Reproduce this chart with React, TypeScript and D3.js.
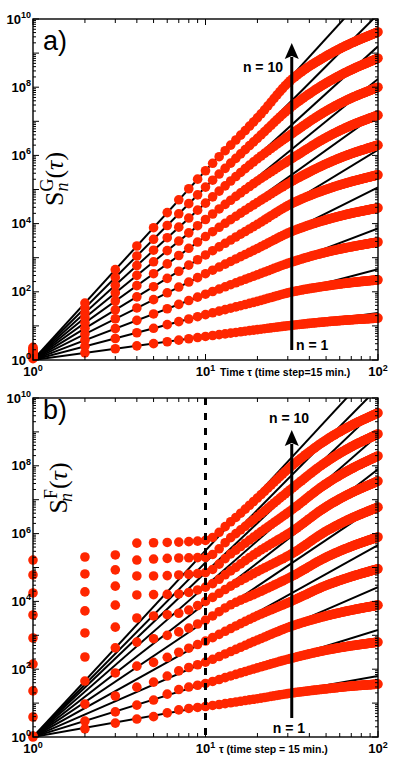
import React from "react";
import * as d3 from "d3";

const W = 395;
const H = 760;

// ---------- data (log10 of S_n(τ)) ----------
// rows: n = 1 .. 10

// panel a) S^G_n(τ)
const tauAnchorsG = [1, 2, 3, 5, 10, 20, 32, 50, 70, 100];
const logSG = [
  [0.04, 0.21, 0.33, 0.48, 0.69, 0.89, 1.02, 1.12, 1.18, 1.23],
  [0.07, 0.40, 0.63, 0.93, 1.33, 1.72, 2.0, 2.17, 2.27, 2.35],
  [0.11, 0.58, 0.92, 1.35, 1.93, 2.5, 2.88, 3.16, 3.32, 3.46],
  [0.15, 0.76, 1.21, 1.77, 2.53, 3.27, 3.78, 4.11, 4.3, 4.46],
  [0.18, 0.93, 1.47, 2.15, 3.08, 3.98, 4.6, 5.0, 5.23, 5.43],
  [0.22, 1.09, 1.73, 2.53, 3.62, 4.62, 5.25, 5.75, 6.05, 6.3],
  [0.26, 1.24, 1.97, 2.88, 4.12, 5.25, 5.92, 6.52, 6.88, 7.18],
  [0.30, 1.38, 2.19, 3.22, 4.6, 5.9, 6.65, 7.3, 7.68, 8.0],
  [0.33, 1.53, 2.42, 3.54, 5.07, 6.5, 7.45, 8.12, 8.51, 8.85],
  [0.37, 1.67, 2.65, 3.88, 5.55, 7.1, 8.25, 8.91, 9.29, 9.62],
];
const zetaG = [0.69, 1.33, 1.93, 2.53, 3.08, 3.62, 4.12, 4.6, 5.07, 5.55];

// panel b) S^F_n(τ)
const tauAnchorsF = [1, 2, 3, 4, 5, 7, 10, 14, 20, 32, 50, 70, 100];
const logSF = [
  [0.0, 0.24, 0.41, 0.53, 0.6, 0.8, 0.9, 1.01, 1.13, 1.3, 1.42, 1.5, 1.56],
  [0.03, 0.47, 0.74, 0.94, 1.09, 1.4, 1.58, 1.8, 2.04, 2.33, 2.56, 2.69, 2.8],
  [0.59, 0.97, 1.21, 1.47, 1.62, 1.95, 2.21, 2.52, 2.86, 3.28, 3.57, 3.74, 3.89],
  [1.36, 1.65, 1.89, 2.09, 2.2, 2.5, 2.83, 3.2, 3.58, 4.02, 4.47, 4.73, 4.96],
  [2.15, 2.36, 2.63, 2.8, 2.9, 3.1, 3.45, 3.9, 4.25, 4.75, 5.3, 5.62, 5.9],
  [2.92, 3.07, 3.24, 3.51, 3.57, 3.65, 4.0, 4.45, 4.88, 5.42, 6.07, 6.45, 6.78],
  [3.6, 3.72, 3.89, 4.19, 4.2, 4.22, 4.42, 4.9, 5.45, 6.08, 6.79, 7.2, 7.55],
  [4.25, 4.28, 4.45, 4.75, 4.75, 4.78, 4.85, 5.4, 5.98, 6.72, 7.47, 7.91, 8.29],
  [4.78, 4.81, 4.93, 5.22, 5.25, 5.28, 5.3, 5.88, 6.5, 7.35, 8.11, 8.56, 8.94],
  [5.22, 5.31, 5.37, 5.72, 5.73, 5.75, 5.8, 6.35, 7.05, 8.02, 8.76, 9.19, 9.56],
];
const zetaF = [0.9, 1.58, 2.21, 2.83, 3.42, 3.95, 4.45, 4.85, 5.15, 5.5];

const yTickExps = [0, 2, 4, 6, 8, 10];
const xTickExps = [0, 1, 2];
const sampleTaus = d3.range(1, 101);

const RED = "#ff2600";
const SANS = "'Liberation Sans', Arial, sans-serif";
const SERIF = "'Liberation Serif', 'DejaVu Serif', serif";

// monotone cubic (Fritsch–Carlson) through the read anchor values
function monotone(xs: number[], ys: number[]) {
  const n = xs.length;
  const d: number[] = [];
  for (let i = 0; i < n - 1; i++) d.push((ys[i + 1] - ys[i]) / (xs[i + 1] - xs[i]));
  const m: number[] = new Array(n);
  m[0] = d[0];
  m[n - 1] = d[n - 2];
  for (let i = 1; i < n - 1; i++) {
    if (d[i - 1] * d[i] <= 0) m[i] = 0;
    else {
      const w1 = 2 * (xs[i + 1] - xs[i]) + (xs[i] - xs[i - 1]);
      const w2 = (xs[i + 1] - xs[i]) + 2 * (xs[i] - xs[i - 1]);
      m[i] = (w1 + w2) / (w1 / d[i - 1] + w2 / d[i]);
    }
  }
  return (x: number) => {
    let i = 0;
    while (i < n - 2 && x > xs[i + 1]) i++;
    const h = xs[i + 1] - xs[i];
    const t = (x - xs[i]) / h;
    const t2 = t * t;
    const t3 = t2 * t;
    return (
      (2 * t3 - 3 * t2 + 1) * ys[i] +
      (t3 - 2 * t2 + t) * h * m[i] +
      (-2 * t3 + 3 * t2) * ys[i + 1] +
      (t3 - t2) * h * m[i + 1]
    );
  };
}

type Cfg = {
  id: string;
  top: number;
  bottom: number;
  left: number;
  right: number;
  tau: number[];
  rows: number[][];
  zeta: number[];
  letter: string;
  sup: string;
  xTitle: string;
  xTitleX: number;
  dashed: boolean;
  arrowBottom: number;
  arrowTip: number;
  n10: { x: number; y: number; anchor: string };
  n1: { x: number; y: number; anchor: string };
  labelPos: { x: number; y: number };
  letterY: number;
};

function Panel({ c }: { c: Cfg }) {
  const x = d3.scaleLog().domain([1, 100]).range([c.left, c.right]);
  const y = d3.scaleLog().domain([1, 1e10]).range([c.bottom, c.top]);
  const line = d3
    .line<[number, number]>()
    .x((d) => x(d[0]))
    .y((d) => y(d[1]));

  const xMinor: number[] = [];
  [0, 1].forEach((e) => {
    for (let m = 1; m <= 9; m++) xMinor.push(m * 10 ** e);
  });
  xMinor.push(100);
  const yMinor: number[] = [];
  for (let e = 0; e < 10; e++) for (let m = 1; m <= 9; m++) yMinor.push(m * 10 ** e);
  yMinor.push(1e10);

  const isMajor = (v: number) => Math.abs(Math.log10(v) - Math.round(Math.log10(v))) < 1e-9;

  const logTau = c.tau.map(Math.log10);
  const interps = c.rows.map((row) => monotone(logTau, row));

  const ax = x(10 ** 1.5);

  return (
    <g>
      <defs>
        <clipPath id={`clip-${c.id}`}>
          <rect x={c.left} y={c.top} width={c.right - c.left} height={c.bottom - c.top} />
        </clipPath>
      </defs>
      {/* power-law lines */}
      <g clipPath={`url(#clip-${c.id})`}>
        {c.zeta.map((z, i) => (
          <path
            key={i}
            d={line([
              [1, 1],
              [100, 100 ** z],
            ]) as string}
            stroke="#000"
            strokeWidth={2}
            fill="none"
          />
        ))}
      </g>
      {/* data dots */}
      {interps.map((f, i) => (
        <g key={i} fill={RED}>
          {sampleTaus.map((t) => (
            <circle key={t} cx={x(t)} cy={y(10 ** f(Math.log10(t)))} r={4.8} />
          ))}
        </g>
      ))}
      {c.dashed && (
        <line
          x1={x(10)}
          x2={x(10)}
          y1={c.top}
          y2={c.bottom}
          stroke="#000"
          strokeWidth={3}
          strokeDasharray="7 8"
        />
      )}
      {/* frame */}
      <rect
        x={c.left}
        y={c.top}
        width={c.right - c.left}
        height={c.bottom - c.top}
        fill="none"
        stroke="#000"
        strokeWidth={1.4}
      />
      {/* ticks */}
      <g stroke="#000" strokeWidth={1}>
        {yMinor.map((v, i) => {
          const len = isMajor(v) ? 6 : 3;
          const yy = y(v);
          return (
            <g key={i}>
              <line x1={c.left} x2={c.left + len} y1={yy} y2={yy} />
              <line x1={c.right} x2={c.right - len} y1={yy} y2={yy} />
            </g>
          );
        })}
        {xMinor.map((v, i) => {
          const len = isMajor(v) ? 6 : 4;
          const xx = x(v);
          return (
            <g key={i}>
              <line x1={xx} x2={xx} y1={c.top} y2={c.top + len} />
              <line x1={xx} x2={xx} y1={c.bottom} y2={c.bottom - len} />
            </g>
          );
        })}
      </g>
      {/* tick labels */}
      <g fontFamily={SANS} fontWeight="bold" fill="#000">
        {yTickExps.map((e) => (
          <text key={e} x={c.left - 2} y={y(10 ** e) + 4.5} textAnchor="end" fontSize={13}>
            10
            <tspan fontSize={9} dy={-5.5}>
              {e}
            </tspan>
          </text>
        ))}
        {xTickExps.map((e) => (
          <text key={e} x={x(10 ** e)} y={c.bottom + 16} textAnchor="middle" fontSize={13}>
            10
            <tspan fontSize={9} dy={-5.5}>
              {e}
            </tspan>
          </text>
        ))}
        <text x={c.xTitleX} y={c.bottom + 16} fontSize={10.5}>
          {c.xTitle}
        </text>
      </g>
      {/* panel letter */}
      <text x={43} y={c.letterY} fontFamily={SANS} fontSize={27} fill="#000">
        {c.letter}
      </text>
      {/* y-axis label */}
      <text
        transform={`translate(${c.labelPos.x},${c.labelPos.y}) rotate(-90)`}
        textAnchor="middle"
        fontFamily={SERIF}
        fontSize={26}
        fill="#000"
      >
        S
        <tspan fontSize={18} dy={-10}>
          {c.sup}
        </tspan>
        <tspan fontSize={18} dx={-13} dy={15} fontStyle="italic">
          n
        </tspan>
        <tspan dx={4} dy={-5}>
          (
        </tspan>
        <tspan fontStyle="italic">τ</tspan>
        <tspan>)</tspan>
      </text>
      {/* arrow */}
      <line x1={ax} x2={ax} y1={c.arrowBottom} y2={c.arrowTip + 14} stroke="#000" strokeWidth={3} />
      <path
        d={`M${ax},${c.arrowTip} L${ax - 7},${c.arrowTip + 16} L${ax},${c.arrowTip + 13} L${ax + 7},${c.arrowTip + 16} Z`}
        fill="#000"
      />
      <text
        x={c.n10.x}
        y={c.n10.y}
        textAnchor={c.n10.anchor as any}
        fontFamily={SANS}
        fontWeight="bold"
        fontSize={14}
      >
        n = 10
      </text>
      <text
        x={c.n1.x}
        y={c.n1.y}
        textAnchor={c.n1.anchor as any}
        fontFamily={SANS}
        fontWeight="bold"
        fontSize={14}
      >
        n = 1
      </text>
    </g>
  );
}

const cfgA: Cfg = {
  id: "a",
  top: 19,
  bottom: 360,
  left: 33,
  right: 378,
  tau: tauAnchorsG,
  rows: logSG,
  zeta: zetaG,
  letter: "a)",
  sup: "G",
  xTitle: "Time τ (time step=15 min.)",
  xTitleX: 220,
  dashed: false,
  arrowBottom: 350,
  arrowTip: 43,
  n10: { x: 283, y: 72, anchor: "end" },
  n1: { x: 296, y: 350, anchor: "start" },
  labelPos: { x: 63, y: 179 },
  letterY: 50,
};

const cfgB: Cfg = {
  id: "b",
  top: 398,
  bottom: 737,
  left: 33,
  right: 378,
  tau: tauAnchorsF,
  rows: logSF,
  zeta: zetaF,
  letter: "b)",
  sup: "F",
  xTitle: "τ (time step = 15 min.)",
  xTitleX: 219,
  dashed: true,
  arrowBottom: 718,
  arrowTip: 430,
  n10: { x: 289, y: 423, anchor: "middle" },
  n1: { x: 289, y: 733, anchor: "middle" },
  labelPos: { x: 67, y: 488 },
  letterY: 419,
};

export default function App() {
  return (
    <svg
      width={W}
      height={H}
      viewBox={`0 0 ${W} ${H}`}
      style={{ position: "absolute", left: 0, top: 0, background: "#fff" }}
    >
      <rect width={W} height={H} fill="#fff" />
      <Panel c={cfgA} />
      <Panel c={cfgB} />
    </svg>
  );
}
